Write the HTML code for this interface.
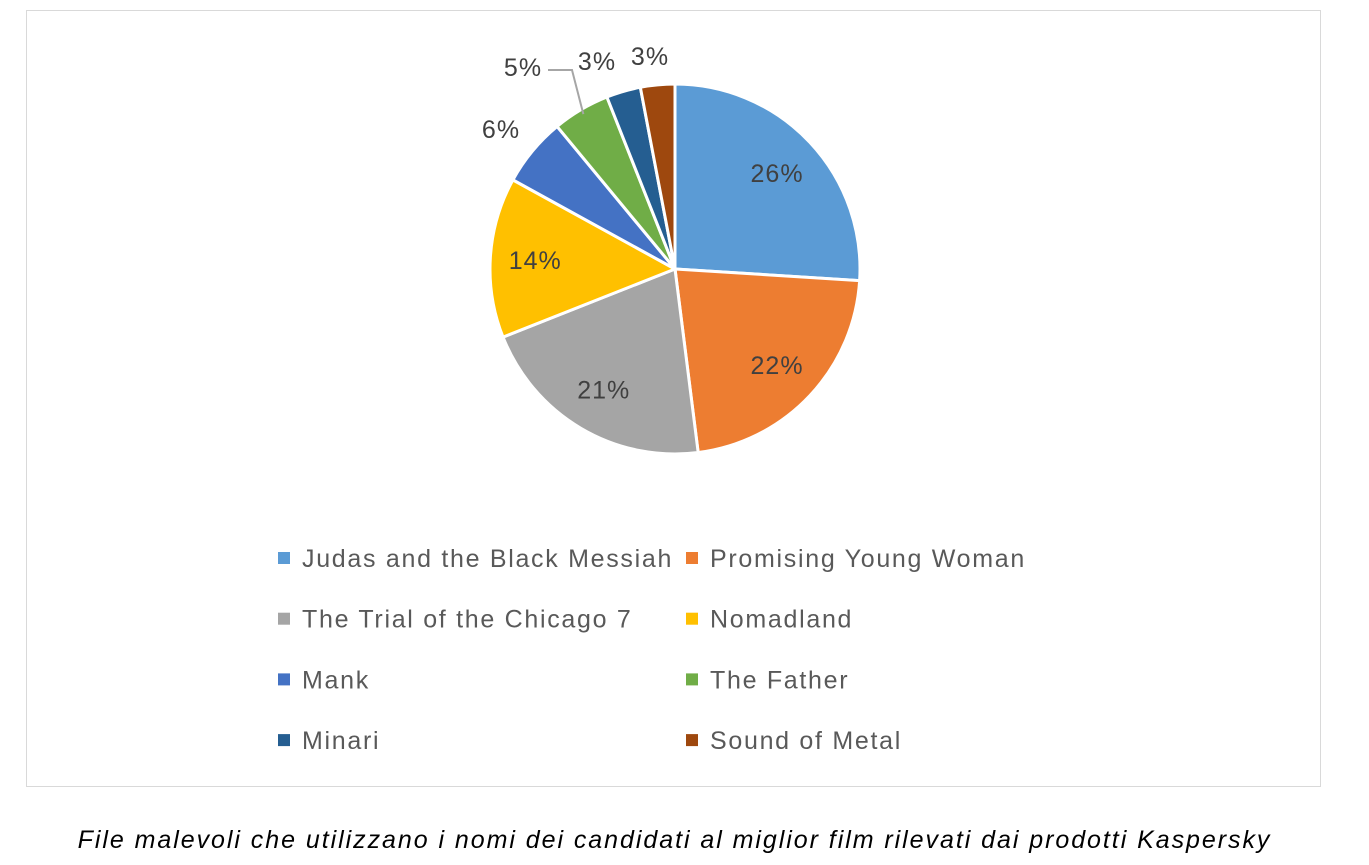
<!DOCTYPE html>
<html><head><meta charset="utf-8">
<style>
body{margin:0;width:1369px;height:865px;background:#fff;overflow:hidden;font-family:"Liberation Sans",sans-serif}
#frame{position:absolute;left:26px;top:10px;width:1295px;height:777px;border:1.5px solid #d9d9d9;box-sizing:border-box}
#caption{position:absolute;left:0;width:1349px;top:826px;text-align:center;font-style:italic;font-size:25px;letter-spacing:1.95px;color:#000;white-space:nowrap}
</style></head><body>
<div id="frame"></div>
<svg id="chart" width="1369" height="865" style="position:absolute;left:0;top:0"></svg>
<div id="caption">File malevoli che utilizzano i nomi dei candidati al miglior film rilevati dai prodotti Kaspersky</div>
<script>
const categories=["Judas and the Black Messiah","Promising Young Woman","The Trial of the Chicago 7","Nomadland","Mank","The Father","Minari","Sound of Metal"];
const values=[26,22,21,14,6,5,3,3];
const colors=["#5b9bd5","#ed7d31","#a5a5a5","#ffc000","#4472c4","#70ad47","#255e91","#9e480e"];
const NS="http://www.w3.org/2000/svg";
const svg=document.getElementById('chart');
const cx=675,cy=269,R=185;
const total=values.reduce((a,b)=>a+b,0);
function pt(a,r){return [cx+r*Math.sin(a),cy-r*Math.cos(a)];}
let acc=0;
values.forEach((v,i)=>{
  const a0=acc/total*2*Math.PI;acc+=v;const a1=acc/total*2*Math.PI;
  const p0=pt(a0,R),p1=pt(a1,R);
  const path=document.createElementNS(NS,'path');
  path.setAttribute('d',`M${cx},${cy}L${p0[0]},${p0[1]}A${R},${R} 0 ${a1-a0>Math.PI?1:0} 1 ${p1[0]},${p1[1]}Z`);
  path.setAttribute('fill',colors[i]);path.setAttribute('stroke','#fff');path.setAttribute('stroke-width','3');
  
  
  svg.appendChild(path);
  const mid=(a0+a1)/2;
  let r=v>=10?140:R+30;
  let lp=pt(mid,r);
  if(i===5){lp=[523,67];
    const ln=document.createElementNS(NS,'polyline');
    const e=pt(mid,R-5);
    ln.setAttribute('points',`548,70 572,70 ${e[0]},${e[1]}`);
    ln.setAttribute('fill','none');ln.setAttribute('stroke','#a6a6a6');ln.setAttribute('stroke-width','2');
    
    
    svg.appendChild(ln);}
  if(i===6)lp=[597,61];
  if(i===7)lp=[650,56];
  if(i===4)lp=[501,129];
  const t=document.createElementNS(NS,'text');
  t.setAttribute('x',lp[0]);t.setAttribute('y',lp[1]+9);t.setAttribute('text-anchor','middle');
  t.setAttribute('font-size','25');t.setAttribute('fill','#404040');t.setAttribute('letter-spacing','1');
  t.textContent=v+'%';
  
  
  svg.appendChild(t);
});
categories.forEach((c,i)=>{
  const col=i%2,row=Math.floor(i/2);
  const x=col?692:284,y=558+row*60.7;
  const g=document.createElementNS(NS,'g');
  
  
  const r=document.createElementNS(NS,'rect');
  r.setAttribute('x',x-6);r.setAttribute('y',y-6);r.setAttribute('width',12);r.setAttribute('height',12);r.setAttribute('fill',colors[i]);
  g.appendChild(r);
  const t=document.createElementNS(NS,'text');
  t.setAttribute('x',x+18);t.setAttribute('y',y+9);t.setAttribute('font-size','25');t.setAttribute('fill','#595959');t.setAttribute('letter-spacing','1.7');
  t.textContent=c;g.appendChild(t);
  svg.appendChild(g);
});
</script>
</body></html>
